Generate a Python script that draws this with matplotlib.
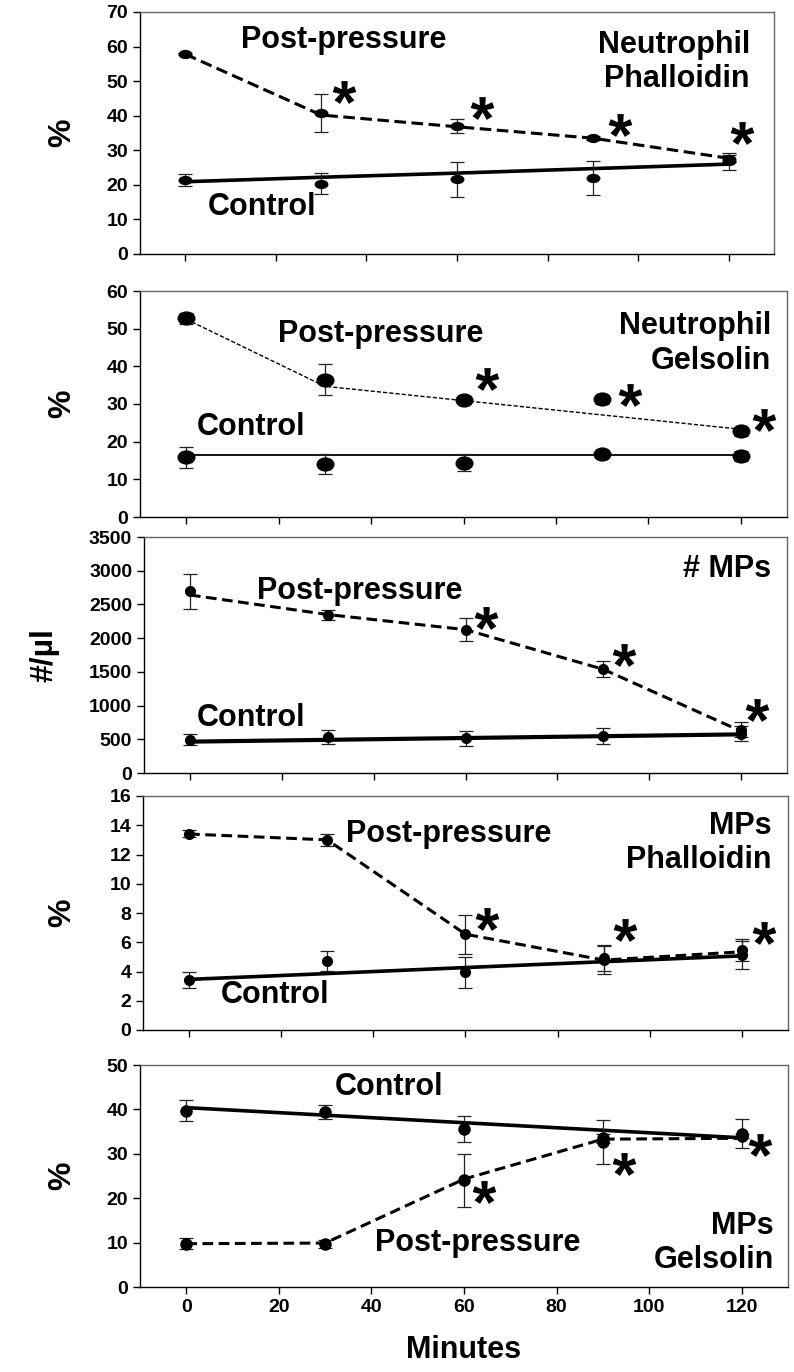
import numpy as np
import matplotlib.pyplot as plt
from matplotlib.path import Path
from matplotlib.textpath import TextPath
from matplotlib.font_manager import FontProperties
from matplotlib.transforms import Affine2D

# ------------------------------------------------------------
# 数据
# ------------------------------------------------------------
minutes = [0, 30, 60, 90, 120]

# 1: Neutrophil Phalloidin
np_post = [57.9, 40.9, 37.0, 33.6, 27.6]
np_post_err = [0.3, 5.5, 2.0, 0.5, 1.0]
np_post_line = [57.8, 40.2, 36.8, 33.5, 27.7]
np_ctrl = [21.4, 20.3, 21.6, 22.0, 26.8]
np_ctrl_err = [1.7, 3.0, 5.0, 5.0, 2.4]
np_ctrl_line = [20.9, 22.2, 23.4, 24.7, 26.0]

# 2: Neutrophil Gelsolin
ng_post = [52.7, 36.5, 31.0, 31.3, 22.7]
ng_post_err = [1.4, 4.0, 0.5, 1.2, 1.2]
ng_post_line = [52.5, 34.7, 30.9, 27.1, 23.3]
ng_ctrl = [15.9, 14.0, 14.4, 16.7, 16.3]
ng_ctrl_err = [2.8, 2.6, 2.2, 1.1, 1.3]
ng_ctrl_line = [16.4, 16.4, 16.4, 16.4, 16.4]

# 3: # MPs
mp_post = [2695, 2343, 2126, 1538, 643]
mp_post_err = [257, 70, 175, 120, 110]
mp_post_line = [2640, 2350, 2126, 1538, 620]
mp_ctrl = [494, 539, 514, 553, 583]
mp_ctrl_err = [80, 105, 115, 120, 115]
mp_ctrl_line = [465, 492, 519, 546, 573]

# 4: MPs Phalloidin
mph_post = [13.43, 12.97, 6.53, 4.89, 5.5]
mph_post_err = [0.25, 0.4, 1.35, 0.85, 0.75]
mph_post_line = [13.4, 13.0, 6.55, 4.78, 5.35]
mph_ctrl = [3.41, 4.73, 3.94, 4.8, 5.12]
mph_ctrl_err = [0.55, 0.7, 1.05, 1.0, 0.95]
mph_ctrl_line = [3.46, 3.86, 4.27, 4.67, 5.07]

# 5: MPs Gelsolin
mg_post = [9.75, 9.75, 24.0, 32.6, 34.0]
mg_post_err = [1.25, 0.9, 6.0, 5.0, 0.5]
mg_post_line = [9.75, 9.9, 24.3, 33.3, 33.5]
mg_ctrl = [39.7, 39.4, 35.6, 33.5, 34.5]
mg_ctrl_err = [2.4, 1.6, 3.0, 1.0, 3.3]
mg_ctrl_line = [40.4, 38.7, 37.0, 35.3, 33.6]

# 星号位置 (x, y)
np_star = ([35, 65.5, 96, 123], [47, 42.2, 37.3, 35])
ng_star = ([65, 96, 125], [36.7, 32.3, 25.7])
mp_star = ([64.4, 94.6, 123.4], [2297, 1754, 940])
mph_star = ([64.6, 94.6, 124.8], [7.6, 6.83, 6.6])
mg_star = ([64.4, 94.6, 124], [21.3, 27.7, 32])

# ------------------------------------------------------------
# 样式
# ------------------------------------------------------------
font = ['Liberation Sans', 'DejaVu Sans']

ellipse_small = Path.unit_circle().transformed(Affine2D().scale(1.6, 1.0))
ellipse_big = Path.unit_circle().transformed(Affine2D().scale(1.3, 1.0))

# 星号用字体轮廓做 marker，居中（CLOSEPOLY 顶点放到中心）
tp = TextPath((0, 0), '*', prop=FontProperties(family='Liberation Sans', weight='bold'))
v = tp.vertices.copy()
keep = tp.codes != Path.CLOSEPOLY
ctr = (v[keep].min(axis=0) + v[keep].max(axis=0)) / 2
v = v - ctr
v[~keep] = 0
asterisk = Path(v, tp.codes)

W, H = 794, 1372
fig = plt.figure(figsize=(W / 100, H / 100), dpi=100)


def make_axes(left, right, top, bottom):
    return fig.add_axes([left / W, 1 - bottom / H, (right - left) / W, (bottom - top) / H])


panels = [
    dict(box=(140, 774, 12, 254), post=np_post, post_err=np_post_err, post_line=np_post_line,
         ctrl=np_ctrl, ctrl_err=np_ctrl_err, ctrl_line=np_ctrl_line, star=np_star,
         ylim=70, step=10, ylabel='%',
         post_txt=(35, 62), ctrl_txt=(17, 13.6),
         name='Neutrophil\nPhalloidin', name_xy=(124.7, 55.5),
         marker=ellipse_small, ms=9, dash_lw=2.2, ctrl_lw=2.6, dashes=(3.8, 1.8)),
    dict(box=(140, 787, 291, 517), post=ng_post, post_err=ng_post_err, post_line=ng_post_line,
         ctrl=ng_ctrl, ctrl_err=ng_ctrl_err, ctrl_line=ng_ctrl_line, star=ng_star,
         ylim=60, step=10, ylabel='%',
         post_txt=(42, 48.7), ctrl_txt=(14, 24),
         name='Neutrophil\nGelsolin', name_xy=(126.5, 46),
         marker=ellipse_big, ms=12, dash_lw=1.0, ctrl_lw=1.3, dashes=(3, 1.5)),
    dict(box=(144, 787, 537, 773), post=mp_post, post_err=mp_post_err, post_line=mp_post_line,
         ctrl=mp_ctrl, ctrl_err=mp_ctrl_err, ctrl_line=mp_ctrl_line, star=mp_star,
         ylim=3500, step=500, ylabel='#/µl',
         post_txt=(37, 2694), ctrl_txt=(13.4, 816),
         name='# MPs', name_xy=(126.5, 3025),
         marker='o', ms=7, dash_lw=2.2, ctrl_lw=3.0, dashes=(3.5, 1.8)),
    dict(box=(143, 788, 796, 1030), post=mph_post, post_err=mph_post_err, post_line=mph_post_line,
         ctrl=mph_ctrl, ctrl_err=mph_ctrl_err, ctrl_line=mph_ctrl_line, star=mph_star,
         ylim=16, step=2, ylabel='%',
         post_txt=(56.4, 13.4), ctrl_txt=(18.7, 2.4),
         name='MPs\nPhalloidin', name_xy=(126.5, 12.8),
         marker='o', ms=7, dash_lw=2.2, ctrl_lw=2.6, dashes=(3.5, 1.8)),
    dict(box=(140, 788, 1065, 1287), post=mg_post, post_err=mg_post_err, post_line=mg_post_line,
         ctrl=mg_ctrl, ctrl_err=mg_ctrl_err, ctrl_line=mg_ctrl_line, star=mg_star,
         ylim=50, step=10, ylabel='%',
         post_txt=(63, 9.9), ctrl_txt=(43.8, 45),
         name='MPs\nGelsolin', name_xy=(127, 9.9),
         marker='o', ms=8, dash_lw=2.2, ctrl_lw=2.6, dashes=(3.5, 1.8)),
]

for i, p in enumerate(panels):
    ax = make_axes(*p['box'])
    # 趋势线
    ax.plot(minutes, p['post_line'], color='black', lw=p['dash_lw'], dashes=p['dashes'], zorder=2)
    ax.plot(minutes, p['ctrl_line'], color='black', lw=p['ctrl_lw'], zorder=2)
    # 数据点 + 误差棒
    for vals, errs in ((p['post'], p['post_err']), (p['ctrl'], p['ctrl_err'])):
        ax.errorbar(minutes, vals, yerr=errs, fmt='none', ecolor='#222222', elinewidth=0.9,
                    capsize=5, capthick=0.9, zorder=3)
        ax.plot(minutes, vals, linestyle='none', marker=p['marker'], ms=p['ms'],
                color='black', zorder=4)
    # 星号
    ax.plot(p['star'][0], p['star'][1], linestyle='none', marker=asterisk, ms=17,
            color='black', markeredgewidth=0, zorder=5)
    # 文字
    ax.text(*p['post_txt'], 'Post-pressure', fontsize=22, fontweight='bold',
            ha='center', va='center', family=font)
    ax.text(*p['ctrl_txt'], 'Control', fontsize=22, fontweight='bold',
            ha='center', va='center', family=font)
    ax.text(*p['name_xy'], p['name'], fontsize=22, fontweight='bold',
            ha='right', va='center', family=font, multialignment='right', linespacing=1.2)

    ax.set_xlim(-10, 130)
    ax.set_ylim(0, p['ylim'])
    ax.set_xticks(range(0, 121, 20))
    ax.set_yticks(np.arange(0, p['ylim'] + 1, p['step']))
    ax.tick_params(direction='out', length=5, width=1, labelsize=14)
    for lab in ax.get_yticklabels() + ax.get_xticklabels():
        lab.set_fontweight('bold')
        lab.set_family(font)
    if i < 4:
        ax.tick_params(axis='x', labelbottom=False)
    else:
        ax.set_xlabel('Minutes', fontsize=22, fontweight='bold', family=font, labelpad=14)
    for side in ('top', 'right'):
        ax.spines[side].set_color('#666666')
        ax.spines[side].set_linewidth(1)
    for side in ('left', 'bottom'):
        ax.spines[side].set_linewidth(1)

    ycenter = 1 - (p['box'][2] + p['box'][3]) / 2 / H
    xpos = 45 if p['ylabel'] != '%' else 62
    fig.text(xpos / W, ycenter, p['ylabel'], rotation=90, fontsize=23, fontweight='bold',
             ha='center', va='center', family=font)

fig.savefig('out.png', dpi=100)
